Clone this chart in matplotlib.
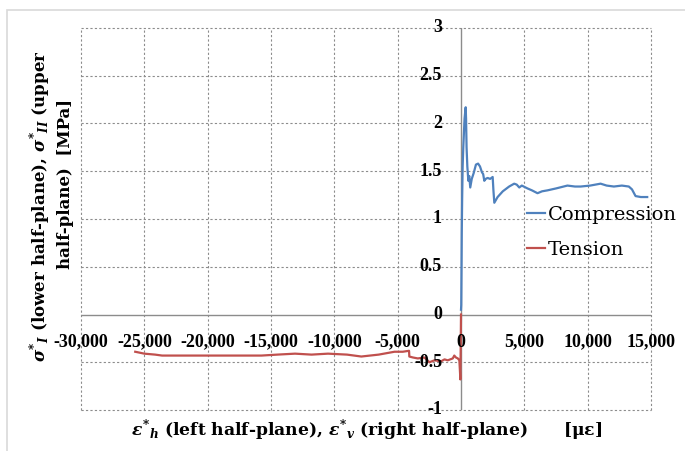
import matplotlib.pyplot as plt
from matplotlib.patches import Rectangle

plt.rcParams['axes.unicode_minus'] = False
plt.rcParams['mathtext.fontset'] = 'custom'
plt.rcParams['mathtext.rm'] = 'DejaVu Serif:bold'
plt.rcParams['mathtext.it'] = 'DejaVu Serif:bold:italic'
plt.rcParams['mathtext.bf'] = 'DejaVu Serif:bold'

# --- strain [µε] / stress [MPa] readings ---
comp_strain = [0, 20, 40, 60, 90, 130, 180, 230, 280, 330, 370, 400, 440, 500, 580,
               650, 730, 850, 1000, 1180, 1350, 1500, 1650, 1750, 1840, 1950, 2100,
               2300, 2500, 2560, 2630, 2890, 3300, 3800, 4200, 4400, 4600, 4800,
               5250, 5600, 6040, 6400, 6830, 7500, 8400, 9000, 9450, 10200, 11020,
               11500, 12070, 12700, 13250, 13500, 13780, 14200, 14700]
comp_stress = [0.05, 0.10, 0.45, 0.85, 1.20, 1.55, 1.75, 1.90, 2.05, 2.12, 2.17, 2.05,
               1.75, 1.55, 1.40, 1.45, 1.33, 1.42, 1.48, 1.57, 1.58, 1.55, 1.49, 1.47,
               1.40, 1.42, 1.43, 1.42, 1.44, 1.30, 1.17, 1.23, 1.29, 1.34, 1.37, 1.36,
               1.33, 1.35, 1.32, 1.30, 1.27, 1.29, 1.30, 1.32, 1.35, 1.34, 1.34, 1.35,
               1.37, 1.35, 1.34, 1.35, 1.34, 1.31, 1.24, 1.23, 1.23]

tens_strain = [0, -20, -50, -80, -130, -250, -400, -530, -650, -850, -1050, -1300,
               -1570, -2100, -2490, -2890, -3410, -3800, -4080, -4100, -4600, -5250,
               -6500, -7870, -9000, -10500, -11800, -13100, -14500, -15750, -18370,
               -20990, -23600, -24150, -25000, -25720]
tens_stress = [0.0, -0.30, -0.68, -0.60, -0.48, -0.46, -0.45, -0.43, -0.46, -0.47,
               -0.48, -0.47, -0.49, -0.48, -0.50, -0.45, -0.46, -0.45, -0.44, -0.38,
               -0.39, -0.39, -0.42, -0.44, -0.42, -0.41, -0.42, -0.41, -0.42, -0.43,
               -0.43, -0.43, -0.43, -0.42, -0.41, -0.39]

x_ticks = [-30000, -25000, -20000, -15000, -10000, -5000, 0, 5000, 10000, 15000]
y_ticks = [-1, -0.5, 0, 0.5, 1, 1.5, 2, 2.5, 3]

fig = plt.figure(figsize=(6.85, 4.51), dpi=100)
fig.patches.append(Rectangle((7 / 685, -0.1), 1.1, 1.1 - 10 / 451,
                             transform=fig.transFigure, fill=False,
                             edgecolor='#d9d9d9', lw=1.2))
ax = fig.add_axes([81 / 685, 1 - 410 / 451, 570 / 685, 382 / 451])

grid_kw = dict(color='#8c8c8c', lw=0.8, ls=(0, (2, 2)), zorder=1, clip_on=False)
for xv in x_ticks:
    if xv != 0:
        ax.axvline(xv, **grid_kw)
for yv in y_ticks:
    if yv != 0:
        ax.axhline(yv, **grid_kw)
ax.axhline(0, color='#8c8c8c', lw=1.0, zorder=2)
ax.axvline(0, color='#8c8c8c', lw=1.0, zorder=2)

ax.plot(comp_strain, comp_stress, color='#4f81bd', lw=1.6, label='Compression', zorder=3)
ax.plot(tens_strain, tens_stress, color='#c0504d', lw=1.6, label='Tension', zorder=3)

ax.set_xlim(-30000, 15000)
ax.set_ylim(-1, 3)
for s in ax.spines.values():
    s.set_visible(False)
ax.set_xticks([])
ax.set_yticks([])

tick_font = dict(family='Liberation Serif', fontweight='bold', fontsize=13)
for xv in x_ticks:
    ax.text(xv, -0.29, f'{xv:,}', ha='center', va='center', **tick_font)
for yv in y_ticks:
    ax.text(-1500, yv, f'{yv:g}', ha='right', va='center', **tick_font)

label_font = dict(family='DejaVu Serif', fontweight='bold')
fig.text(367 / 685, 1 - 430 / 451,
         r'$\varepsilon^{*}{}_{h}$ (left half-plane), $\varepsilon^{*}{}_{v}$ (right half-plane)      [με]',
         ha='center', va='center', fontsize=12.3, **label_font)
# y title drawn as two rotated lines
fig.text(40 / 685, 1 - 206 / 451,
         r'$\sigma^{*}{}_{I}$ (lower half-plane), $\sigma^{*}{}_{II}$ (upper',
         ha='center', va='center', rotation=90, fontsize=12, **label_font)
fig.text(66 / 685, 1 - 184 / 451, 'half-plane)  [MPa]',
         ha='center', va='center', rotation=90, fontsize=12, **label_font)

ax.legend(loc='upper left', bbox_to_anchor=(527 / 685, 1 - 206 / 451),
          bbox_transform=fig.transFigure, frameon=False, borderpad=0,
          borderaxespad=0, handlelength=0.95, handletextpad=0.1, labelspacing=0.85,
          prop=dict(family='DejaVu Serif', size=14))

fig.savefig('out.png', dpi=100)
